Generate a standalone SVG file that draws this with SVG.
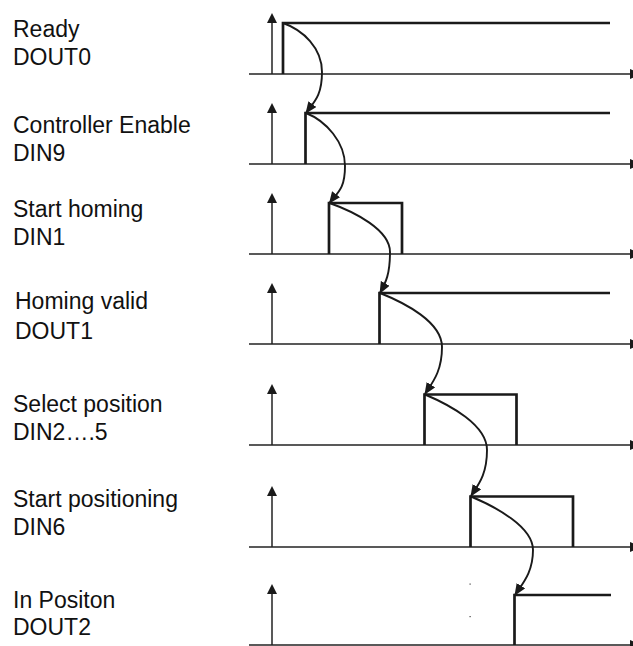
<svg xmlns="http://www.w3.org/2000/svg" width="633" height="646" viewBox="0 0 633 646">
<style>
  text { font-family: "Liberation Sans", Arial, sans-serif; font-size: 23px; fill: #111; }
  .axis { stroke: #222; stroke-width: 1.5; fill: none; }
  .yax { stroke: #222; stroke-width: 1.5; fill: none; }
  .sig { stroke: #1a1a1a; stroke-width: 2.7; fill: none; stroke-linejoin: miter; stroke-linecap: butt; }
  .head { fill: #1a1a1a; }
  .cur { stroke: #1a1a1a; stroke-width: 1.9; fill: none; marker-end: url(#ah); }
</style>
<defs>
  <marker id="ah" markerUnits="userSpaceOnUse" markerWidth="14" markerHeight="11" refX="11" refY="5" orient="auto" viewBox="0 0 14 11">
    <path d="M0,0 L12,5 L0,10 z" fill="#1a1a1a"/>
  </marker>
  <g id="axisTpl">
    <line class="axis" x1="249" y1="0" x2="631" y2="0"/>
    <polygon class="head" points="630,-5 642,0 630,5"/>
    <line class="yax" x1="272" y1="0" x2="272" y2="-52"/>
    <polygon class="head" points="267,-51 272,-61 277,-51"/>
  </g>
</defs>

<g id="row1">
  <text x="13" y="37">Ready</text>
  <text x="13" y="65">DOUT0</text>
  <use href="#axisTpl" y="74"/>
  <polyline class="sig" points="283,74 283,23 610,23"/>
</g>
<g id="row2">
  <text x="13" y="132.5">Controller Enable</text>
  <text x="13" y="161">DIN9</text>
  <use href="#axisTpl" y="164"/>
  <polyline class="sig" points="305.5,164 305.5,113 610,113"/>
</g>
<g id="row3">
  <text x="13" y="216.5">Start homing</text>
  <text x="13" y="244.5">DIN1</text>
  <use href="#axisTpl" y="254"/>
  <polyline class="sig" points="329,254 329,203 402,203 402,254"/>
</g>
<g id="row4">
  <text x="15" y="309">Homing valid</text>
  <text x="15" y="338.5">DOUT1</text>
  <use href="#axisTpl" y="344"/>
  <polyline class="sig" points="379.5,344 379.5,293 610,293"/>
</g>
<g id="row5">
  <text x="13" y="411.5">Select position</text>
  <text x="13" y="440">DIN2….5</text>
  <use href="#axisTpl" y="445"/>
  <polyline class="sig" points="424.5,445 424.5,394.5 516.5,394.5 516.5,445"/>
</g>
<g id="row6">
  <text x="13" y="506.5">Start positioning</text>
  <text x="13" y="535">DIN6</text>
  <use href="#axisTpl" y="547"/>
  <polyline class="sig" points="470.5,547 470.5,496.5 573,496.5 573,547"/>
</g>
<g id="row7">
  <text x="13" y="608">In Positon</text>
  <text x="13" y="635">DOUT2</text>
  <use href="#axisTpl" y="645"/>
  <polyline class="sig" points="514.5,645 514.5,595 611,595"/>
  <rect x="469.5" y="583.5" width="1.2" height="1.2" fill="#444"/>
  <rect x="469.5" y="616" width="1.2" height="1.2" fill="#444"/>
</g>

<g id="connectors">
  <path class="cur" d="M283,23 C303,30 322,48 322,72 S314,102 306,113"/>
  <path class="cur" d="M306,113 C326,121 345,142 345,166 S337,193 329.5,203"/>
  <path class="cur" d="M329.5,203 C355,212 390,230 390,252 S386,282 380,293"/>
  <path class="cur" d="M380,293 C405,303 442,322 442,347 S432,383 425,394"/>
  <path class="cur" d="M425,394.5 C450,405 487,425 487,450 S478,485 471,496"/>
  <path class="cur" d="M471,496.5 C496,507 533,527 533,550 S522,584 515,595"/>
</g>
</svg>
